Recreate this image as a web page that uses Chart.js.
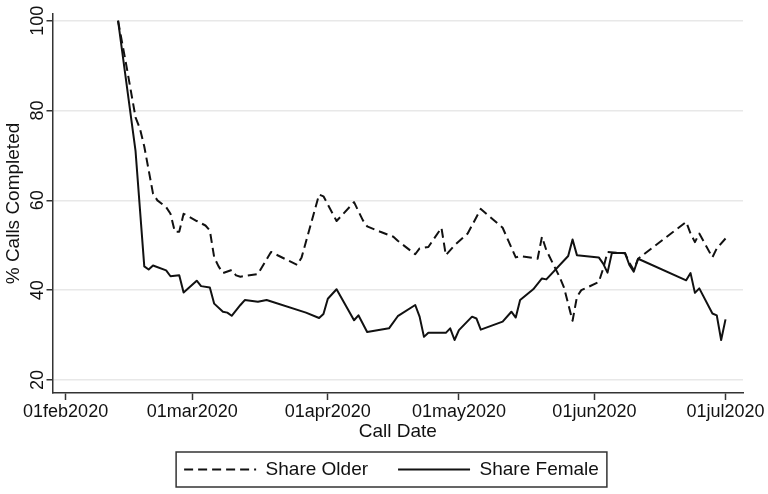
<!DOCTYPE html>
<html>
<head>
<meta charset="utf-8">
<title>Share of completed calls</title>
<script src="https://cdn.jsdelivr.net/npm/chart.js@4.4.1/dist/chart.umd.min.js"></script>
<style>
  html, body { margin: 0; padding: 0; background: #fff; }
</style>
</head>
<body>
<canvas id="callsChart" width="768" height="494"></canvas>
<script>
// survey days and shares (%) for each group
const olderDates = [
  '2020-02-13', '2020-02-15', '2020-02-17', '2020-02-18', '2020-02-19', '2020-02-21', '2020-02-22',
  '2020-02-24', '2020-02-25', '2020-02-26', '2020-02-27', '2020-02-28', '2020-02-29', '2020-03-02',
  '2020-03-04', '2020-03-05', '2020-03-06', '2020-03-07', '2020-03-08', '2020-03-10', '2020-03-11',
  '2020-03-12', '2020-03-16', '2020-03-19', '2020-03-25', '2020-03-26', '2020-03-30', '2020-03-31',
  '2020-04-03', '2020-04-07', '2020-04-09', '2020-04-10', '2020-04-13', '2020-04-16', '2020-04-17',
  '2020-04-21', '2020-04-22', '2020-04-24', '2020-04-27', '2020-04-28', '2020-04-30', '2020-05-03',
  '2020-05-06', '2020-05-11', '2020-05-14', '2020-05-15', '2020-05-19', '2020-05-20', '2020-05-21',
  '2020-05-24', '2020-05-25', '2020-05-27', '2020-05-28', '2020-05-29', '2020-06-02', '2020-06-03',
  '2020-06-04', '2020-06-08', '2020-06-09', '2020-06-10', '2020-06-11', '2020-06-22', '2020-06-23',
  '2020-06-24', '2020-06-25', '2020-06-28', '2020-06-29', '2020-07-01'
];
const olderShare = [
  100, 89.5, 78.5, 76, 72, 61.5, 60,
  58.5, 57, 53, 53, 57, 56.5, 55.4,
  54.4, 53.3, 47.3, 45.3, 43.8, 44.5, 43.3,
  43.0, 43.6, 48.5, 45.6, 47.3, 61.3, 60.9,
  55.4, 59.6, 55.6, 54.2, 53.0, 51.9, 51.0,
  48.0, 49.3, 49.6, 53.9, 47.8, 50.0, 52.6,
  58.1, 53.9, 47.3, 47.6, 47.0, 51.9, 48.9,
  43.0, 40.7, 33.2, 38.5, 40.0, 41.8, 44.8,
  48.5, 48.2, 46.1, 44.5, 47.0, 55.2, 52.6,
  50.7, 52.6, 47.3, 49.3, 51.5
];

const femaleDates = [
  '2020-02-13', '2020-02-17', '2020-02-19', '2020-02-20', '2020-02-21', '2020-02-24', '2020-02-25',
  '2020-02-27', '2020-02-28', '2020-03-02', '2020-03-03', '2020-03-05', '2020-03-06', '2020-03-08',
  '2020-03-09', '2020-03-10', '2020-03-12', '2020-03-13', '2020-03-16', '2020-03-18', '2020-03-27',
  '2020-03-30', '2020-03-31', '2020-04-01', '2020-04-03', '2020-04-07', '2020-04-08', '2020-04-10',
  '2020-04-15', '2020-04-17', '2020-04-21', '2020-04-22', '2020-04-23', '2020-04-24', '2020-04-28',
  '2020-04-29', '2020-04-30', '2020-05-01', '2020-05-04', '2020-05-05', '2020-05-06', '2020-05-11',
  '2020-05-13', '2020-05-14', '2020-05-15', '2020-05-18', '2020-05-20', '2020-05-21', '2020-05-26',
  '2020-05-27', '2020-05-28', '2020-06-02', '2020-06-03', '2020-06-04', '2020-06-05', '2020-06-08',
  '2020-06-09', '2020-06-10', '2020-06-11', '2020-06-22', '2020-06-23', '2020-06-24', '2020-06-25',
  '2020-06-28', '2020-06-29', '2020-06-30', '2020-07-01'
];
const femaleShare = [
  100, 71, 45.3, 44.6, 45.5, 44.4, 43.1,
  43.3, 39.5, 42.1, 40.9, 40.6, 37.0, 35.2,
  35.0, 34.3, 36.7, 37.8, 37.4, 37.8, 35.0,
  33.8, 34.7, 38.1, 40.2, 33.3, 34.4, 30.7,
  31.5, 34.2, 36.7, 34.1, 29.6, 30.5, 30.5,
  31.5, 28.9, 31.1, 34.1, 33.7, 31.2, 33.0,
  35.2, 33.9, 37.8, 40.2, 42.6, 42.4, 47.6,
  51.3, 47.8, 47.3, 45.9, 43.9, 48.3, 48.3,
  45.6, 44.1, 47.0, 42.2, 43.8, 39.4, 40.4,
  34.8, 34.4, 28.9, 33.5
];

const tickDates = ['2020-02-01', '2020-03-01', '2020-04-01', '2020-05-01', '2020-06-01', '2020-07-01'];
const tickLabels = ['01feb2020', '01mar2020', '01apr2020', '01may2020', '01jun2020', '01jul2020'];
const yTicks = [20, 40, 60, 80, 100];

// days counted from 1 Feb 2020
const dayZero = Date.parse('2020-02-01');
function dayOf(s) {
  return (Date.parse(s) - dayZero) / 86400000;
}
function toPoints(dates, values) {
  return dates.map((d, i) => ({ x: dayOf(d), y: values[i] }));
}

const ink = '#111';
const axisColor = '#333';
const legendFont = 19;
const legendGap = 30;

// nudge the legend a little right and put a frame round it
const legendFrame = {
  id: 'legendFrame',
  afterUpdate(chart) {
    const lg = chart.legend;
    lg.left += 20;
    lg.right += 20;
    (lg.legendHitBoxes || []).forEach(b => { b.left += 20; });
  },
  afterDraw(chart) {
    const lg = chart.legend;
    if (!lg || !lg.lineWidths) return;
    const itemsWidth = lg.lineWidths[0] - legendGap;
    const start = (lg.left + legendGap + lg.right - lg.lineWidths[0]) / 2;
    const top = lg.top + legendGap;
    const ctx = chart.ctx;
    ctx.save();
    ctx.strokeStyle = axisColor;
    ctx.lineWidth = 1.5;
    ctx.strokeRect(start - 8, top - 8, itemsWidth + 16, legendFont + 16);
    ctx.restore();
  }
};

new Chart(document.getElementById('callsChart').getContext('2d'), {
  type: 'line',
  data: {
    datasets: [
      {
        label: 'Share Older',
        data: toPoints(olderDates, olderShare),
        borderColor: ink,
        borderWidth: 2,
        borderDash: [9, 5],
        borderJoinStyle: 'round',
        pointRadius: 0,
        tension: 0
      },
      {
        label: 'Share Female',
        data: toPoints(femaleDates, femaleShare),
        borderColor: ink,
        borderWidth: 2,
        borderJoinStyle: 'round',
        pointRadius: 0,
        tension: 0
      }
    ]
  },
  options: {
    responsive: false,
    animation: false,
    layout: { padding: { left: 0, right: 25, top: 14, bottom: 5 } },
    plugins: {
      legend: {
        position: 'bottom',
        labels: {
          usePointStyle: true,
          pointStyle: 'line',
          pointStyleWidth: 72,
          padding: legendGap,
          color: ink,
          font: { family: 'Liberation Sans', size: legendFont },
          // keep each dataset's dash pattern on its legend sample
          generateLabels: chart => {
            const items = Chart.defaults.plugins.legend.labels.generateLabels(chart);
            items.forEach(item => {
              item.lineDash = chart.data.datasets[item.datasetIndex].borderDash || [];
            });
            return items;
          }
        }
      },
      tooltip: { enabled: false }
    },
    scales: {
      x: {
        type: 'linear',
        min: dayOf('2020-01-29'),
        max: dayOf('2020-07-05'),
        afterBuildTicks: s => { s.ticks = tickDates.map(d => ({ value: dayOf(d) })); },
        afterFit: s => { s.height = 37; },
        ticks: {
          autoSkip: false,
          maxRotation: 0,
          padding: 1,
          color: ink,
          font: { family: 'Liberation Sans', size: 18 },
          callback: (v, i) => tickLabels[i]
        },
        grid: { drawOnChartArea: false, tickLength: 7, tickColor: axisColor, tickWidth: 1.5 },
        border: { color: axisColor, width: 1.5 },
        title: {
          display: true,
          text: 'Call Date',
          color: ink,
          font: { family: 'Liberation Sans', size: 19 },
          padding: { top: 0, bottom: -13.4 }
        }
      },
      y: {
        min: 17.1,
        max: 101.5,
        afterBuildTicks: s => { s.ticks = yTicks.map(v => ({ value: v })); },
        afterFit: s => { s.width = 52.5; },
        ticks: {
          minRotation: 90,
          maxRotation: 90,
          crossAlign: 'center',
          padding: -6.5,
          color: ink,
          font: { family: 'Liberation Sans', size: 18 }
        },
        grid: { color: '#e8e8e8', lineWidth: 1.5, tickLength: 6, tickColor: axisColor, tickWidth: 1.5 },
        border: { color: axisColor, width: 1.5 },
        title: {
          display: true,
          text: '% Calls Completed',
          color: ink,
          font: { family: 'Liberation Sans', size: 19 },
          padding: { top: 2.6, bottom: 0 }
        }
      }
    }
  },
  plugins: [legendFrame]
});
</script>
</body>
</html>
